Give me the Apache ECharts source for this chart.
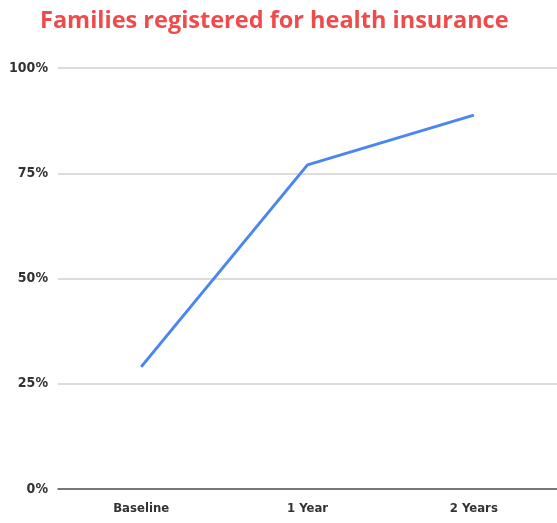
<!DOCTYPE html>
<html>
<head>
<meta charset="utf-8">
<script src="https://cdn.jsdelivr.net/npm/echarts@6/dist/echarts.min.js"></script>
<style>
  html, body { margin: 0; padding: 0; background: #fff; }
  #chart { width: 557px; height: 523px; }
</style>
</head>
<body>
<div id="chart"></div>
<script>
// data
const categories = ['Baseline', '1 Year', '2 Years'];
const registered = [29, 77, 88.8];
const yTicks = [0, 25, 50, 75, 100];

const labelFont = "'DejaVu Sans Condensed', sans-serif";

const chart = echarts.init(document.getElementById('chart'));
chart.setOption({
  animation: false,
  title: {
    text: 'Families registered for health insurance',
    left: 35,
    top: 4,
    textStyle: {
      color: '#f04b4b',
      fontFamily: 'Open Sans',
      fontWeight: 'bold',
      fontSize: 23.5
    }
  },
  grid: { left: 58, right: 0, top: 68, bottom: 34 },
  xAxis: {
    type: 'category',
    data: categories,
    boundaryGap: true,
    axisLine: { lineStyle: { color: '#555', width: 1.5 } },
    axisTick: { show: false },
    axisLabel: {
      color: '#333',
      fontFamily: labelFont,
      fontWeight: 'bold',
      fontSize: 13,
      margin: 13
    }
  },
  yAxis: {
    type: 'value',
    min: yTicks[0],
    max: yTicks[yTicks.length - 1],
    interval: 25,
    axisLine: { show: false },
    axisTick: { show: false },
    splitLine: { lineStyle: { color: '#d0d0d0', width: 1.5 } },
    axisLabel: {
      color: '#333',
      fontFamily: labelFont,
      fontWeight: 'bold',
      fontSize: 14,
      margin: 10,
      formatter: v => v + '%'
    }
  },
  series: [{
    type: 'line',
    data: registered,
    showSymbol: false,
    lineStyle: { color: '#4a86f0', width: 3 }
  }]
});
</script>
</body>
</html>
